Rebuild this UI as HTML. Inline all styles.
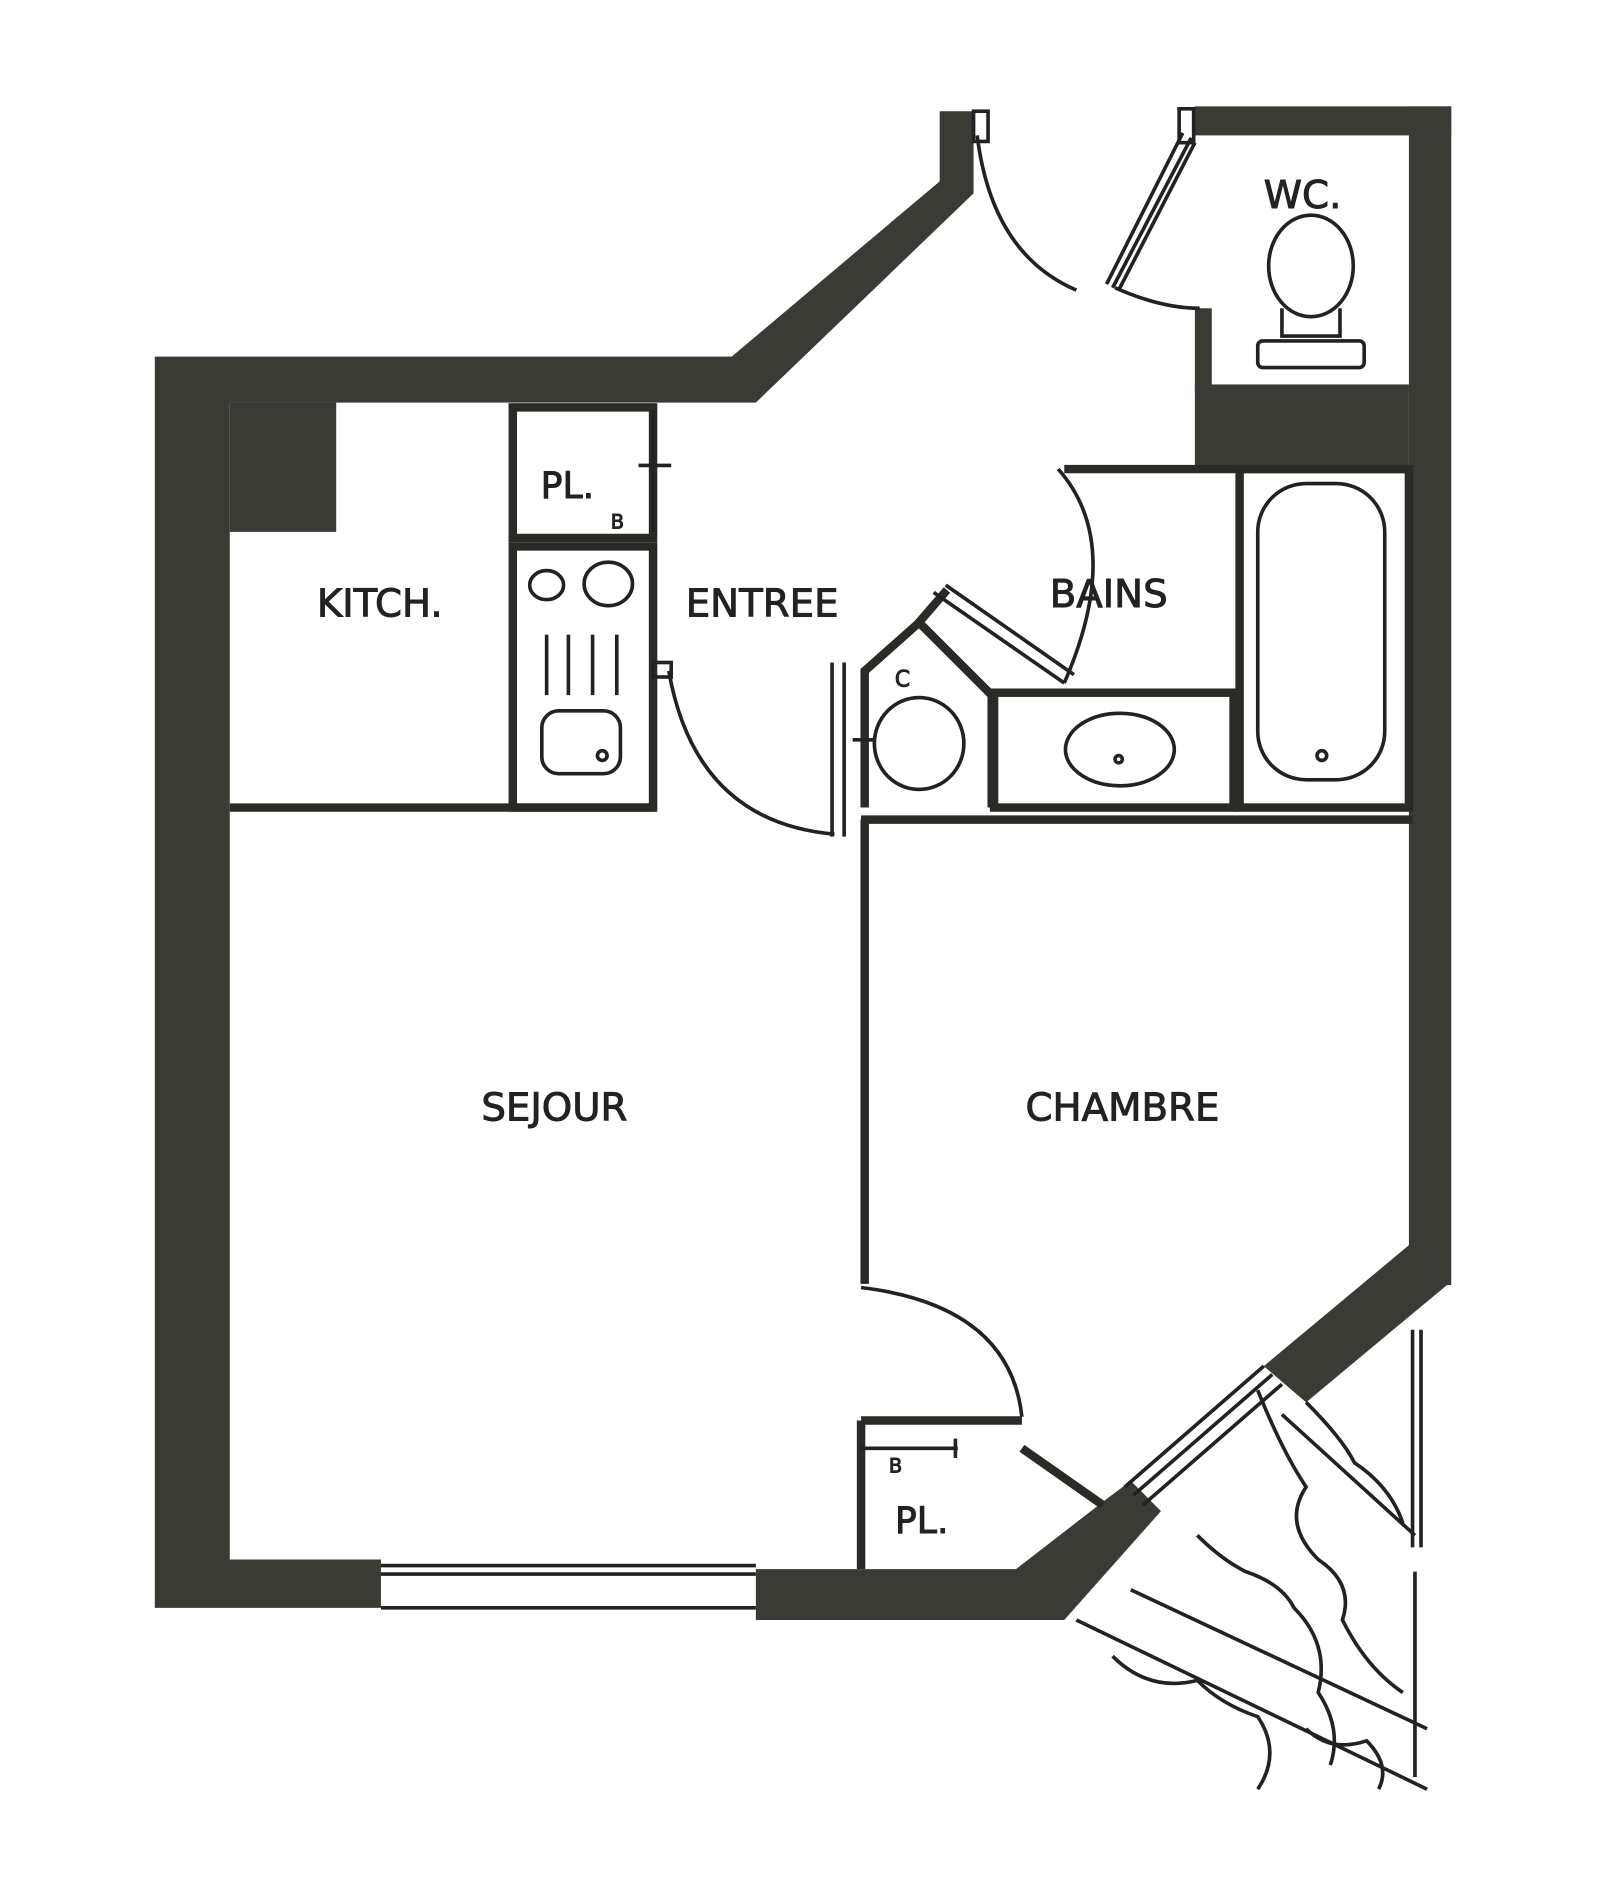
<!DOCTYPE html>
<html><head><style>html,body{margin:0;padding:0;background:#fff}svg{display:block}</style></head>
<body>
<svg width="1600" height="1898" viewBox="0 0 1323 1570" preserveAspectRatio="none" xmlns="http://www.w3.org/2000/svg">
<rect width="1323" height="1570" fill="#fff"/>
<g fill="#3b3b36" stroke="none">
<path d="M128,295 L605,295 L777,150 L777,92 L805,92 L805,160 L625,333 L190,333 L190,1290 L315,1290 L315,1330 L128,1330 Z"/>
<rect x="190" y="333" width="88" height="107"/>
<path d="M625,1298 L840,1298 L915,1240 L935,1225 L960,1250 L880,1340 L625,1340 Z"/>
<rect x="1165" y="88" width="35" height="975"/>
<path d="M1165,1030 L1200,1060 L1080,1160 L1045,1130 Z"/>
<rect x="988" y="88" width="212" height="24"/>
<rect x="988" y="318" width="177" height="67"/>
<rect x="988" y="255" width="14" height="70"/>
</g>
<g fill="none" stroke="#2a2a26" stroke-width="7">
<rect x="424" y="337" width="116" height="108"/>
<rect x="424" y="452" width="116" height="216"/>
<line x1="190" y1="668" x2="540" y2="668"/>
<line x1="715" y1="678" x2="715" y2="1062"/>
<line x1="712" y1="678" x2="1168" y2="678"/>
<path d="M715,668 L715,555 L760,515 L820,575 L820,668"/>
<line x1="758" y1="517" x2="783" y2="488"/>
<rect x="822" y="573" width="198" height="95"/>
<rect x="1025" y="388" width="140" height="280"/>
<line x1="880" y1="388" x2="1165" y2="388"/>
<line x1="712" y1="1175" x2="712" y2="1298"/>
<line x1="712" y1="1175" x2="845" y2="1175"/>
<line x1="845" y1="1198" x2="912" y2="1245"/>
</g>
<g fill="none" stroke="#222" stroke-width="3">
<line x1="540" y1="340" x2="540" y2="440"/><line x1="528" y1="385" x2="555" y2="385"/>
<path d="M553,555 Q575,680 690,690"/>
<rect x="540" y="548" width="15" height="12"/>
<line x1="688" y1="548" x2="688" y2="692"/><line x1="698" y1="548" x2="698" y2="692"/>
<path d="M808,112 Q820,210 890,240"/>
<rect x="805" y="92" width="12" height="25"/>
<path d="M978,110 L915,235"/><path d="M988,118 L925,240"/><path d="M985,114 L920,238"/>
<path d="M922,238 Q960,255 992,255"/>
<rect x="975" y="90" width="12" height="28"/>
<path d="M875,388 Q930,450 880,565"/>
<path d="M772,490 L880,565"/><path d="M782,484 L888,558"/>
<path d="M712,1065 Q835,1080 845,1172"/>
<line x1="712" y1="1198" x2="792" y2="1198"/><line x1="790" y1="1190" x2="790" y2="1206"/>
<rect x="1040" y="400" width="105" height="245" rx="40"/>
<circle cx="1093" cy="625" r="4"/>
<ellipse cx="926" cy="620" rx="45" ry="30"/>
<circle cx="925" cy="628" r="3"/>
<ellipse cx="760" cy="615" rx="37" ry="38"/>
<line x1="705" y1="612" x2="723" y2="612"/>
<ellipse cx="452" cy="484" rx="14" ry="12"/>
<ellipse cx="503" cy="483" rx="20" ry="18"/>
<line x1="452" y1="525" x2="452" y2="575"/><line x1="470" y1="525" x2="470" y2="575"/>
<line x1="490" y1="525" x2="490" y2="575"/><line x1="510" y1="525" x2="510" y2="575"/>
<rect x="448" y="588" width="65" height="52" rx="14"/>
<circle cx="498" cy="625" r="4"/>
<ellipse cx="1084" cy="220" rx="35" ry="42"/>
<path d="M1060,255 L1060,278 L1108,278 L1108,255"/>
<rect x="1040" y="282" width="88" height="22" rx="4"/>
<line x1="315" y1="1295" x2="625" y2="1295"/><line x1="315" y1="1302" x2="625" y2="1302"/>
<line x1="315" y1="1330" x2="625" y2="1330"/>
<line x1="1045" y1="1130" x2="930" y2="1230"/><line x1="1052" y1="1137" x2="937" y2="1237"/><line x1="1060" y1="1145" x2="945" y2="1245"/>
<line x1="890" y1="1340" x2="1180" y2="1480"/><line x1="935" y1="1315" x2="1180" y2="1430"/>
<line x1="1168" y1="1100" x2="1168" y2="1280"/><line x1="1175" y1="1100" x2="1175" y2="1280"/>
<line x1="1170" y1="1300" x2="1170" y2="1470"/>
<line x1="1060" y1="1170" x2="1170" y2="1270"/>
<path d="M1040,1150 Q1060,1200 1080,1230 Q1060,1260 1090,1290 Q1120,1310 1110,1340 Q1130,1380 1160,1400"/>
<path d="M1080,1160 Q1110,1190 1120,1210 Q1150,1230 1160,1260"/>
<path d="M990,1270 Q1010,1290 1030,1300 Q1060,1310 1070,1330 Q1100,1360 1090,1400 Q1110,1430 1100,1460"/>
<path d="M920,1370 Q950,1400 990,1390 Q1010,1410 1040,1420 Q1060,1450 1040,1480"/>
<path d="M1080,1430 Q1100,1450 1130,1440 Q1150,1460 1140,1480"/>
</g>
<g font-family="'DejaVu Sans','Liberation Sans',sans-serif" fill="#222" stroke="#222" stroke-width="0.8" font-size="32">
<text x="262" y="510">KITCH.</text>
<text x="447" y="412" font-size="30">PL.</text>
<text x="505" y="437" font-size="16">B</text>
<text x="567" y="510">ENTREE</text>
<text x="868" y="502">BAINS</text>
<text x="1045" y="172">WC.</text>
<text x="740" y="568" font-size="18">C</text>
<text x="398" y="927">SEJOUR</text>
<text x="848" y="927">CHAMBRE</text>
<text x="740" y="1268" font-size="30">PL.</text>
<text x="735" y="1218" font-size="16">B</text>
</g>
</svg>
</body></html>
